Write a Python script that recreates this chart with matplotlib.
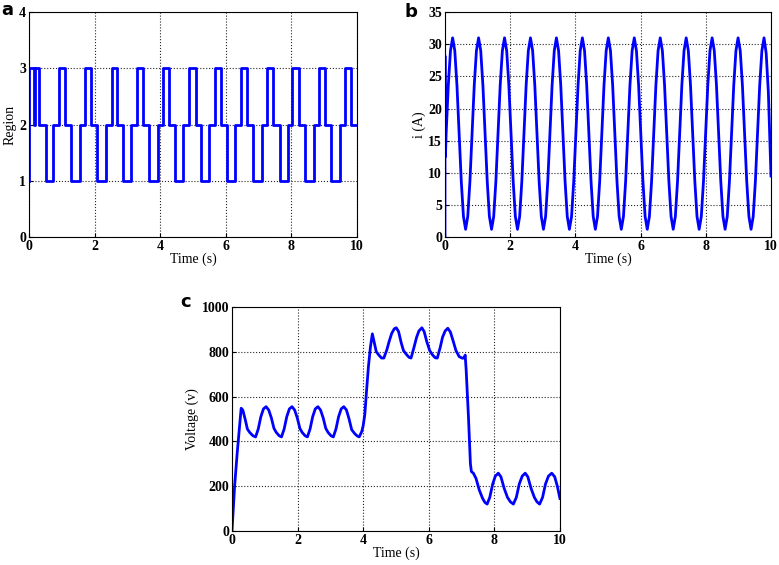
import matplotlib
matplotlib.use("Agg")
import matplotlib.pyplot as plt

# ---- panel a: region index (switching instants, s) ----
region_t = [0, 0, 0.16, 0.17, 0.30,
            0.51, 0.73, 0.91, 1.10, 1.29, 1.55, 1.71, 1.88, 2.06, 2.34, 2.52, 2.69,
            2.87, 3.12, 3.30, 3.48, 3.66, 3.92, 4.09, 4.28, 4.45, 4.70, 4.89, 5.08,
            5.24, 5.50, 5.67, 5.86, 6.03, 6.29, 6.48, 6.64, 6.84, 7.09, 7.27, 7.45,
            7.64, 7.89, 8.03, 8.24, 8.42, 8.68, 8.85, 9.03, 9.22, 9.47, 9.64, 9.82, 10.0]
region_v = [1, 3, 2, 3, 2,
            1, 2, 3, 2, 1, 2, 3, 2, 1, 2, 3, 2,
            1, 2, 3, 2, 1, 2, 3, 2, 1, 2, 3, 2,
            1, 2, 3, 2, 1, 2, 3, 2, 1, 2, 3, 2,
            1, 2, 3, 2, 1, 2, 3, 2, 1, 2, 3, 2, 2]

# ---- panel b: current ----
current_t = [0, 0, 0.015, 0.036, 0.102, 0.169,
    0.235, 0.301, 0.368, 0.434, 0.500, 0.567, 0.633, 0.699, 0.766, 0.832, 0.898, 0.965,
    1.031, 1.097, 1.164, 1.230, 1.296, 1.363, 1.429, 1.495, 1.562, 1.628, 1.694, 1.761,
    1.827, 1.893, 1.960, 2.026, 2.092, 2.159, 2.225, 2.291, 2.358, 2.424, 2.490, 2.557,
    2.623, 2.689, 2.756, 2.822, 2.888, 2.955, 3.021, 3.087, 3.154, 3.220, 3.286, 3.353,
    3.419, 3.485, 3.552, 3.618, 3.684, 3.751, 3.817, 3.883, 3.950, 4.016, 4.082, 4.149,
    4.215, 4.281, 4.348, 4.414, 4.480, 4.547, 4.613, 4.679, 4.746, 4.812, 4.878, 4.945,
    5.011, 5.077, 5.144, 5.210, 5.276, 5.343, 5.409, 5.475, 5.542, 5.608, 5.674, 5.741,
    5.807, 5.873, 5.940, 6.006, 6.072, 6.139, 6.205, 6.271, 6.338, 6.404, 6.470, 6.537,
    6.603, 6.669, 6.736, 6.802, 6.868, 6.935, 7.001, 7.067, 7.134, 7.200, 7.266, 7.333,
    7.399, 7.465, 7.532, 7.598, 7.664, 7.731, 7.797, 7.863, 7.930, 7.996, 8.062, 8.129,
    8.195, 8.261, 8.328, 8.394, 8.460, 8.527, 8.593, 8.659, 8.726, 8.792, 8.858, 8.925,
    8.991, 9.057, 9.124, 9.190, 9.256, 9.323, 9.389, 9.455, 9.522, 9.588, 9.654, 9.721,
    9.787, 9.853, 9.920, 10.0]
current_i = [0, 28.2, 12.5, 16.1, 23.6, 29.0,
    31.0, 29.0, 23.6, 16.1, 8.7, 3.2, 1.2, 3.2, 8.7, 16.1, 23.6, 29.0,
    31.0, 29.0, 23.6, 16.1, 8.7, 3.2, 1.2, 3.2, 8.7, 16.1, 23.6, 29.0,
    31.0, 29.0, 23.6, 16.1, 8.7, 3.2, 1.2, 3.2, 8.7, 16.1, 23.6, 29.0,
    31.0, 29.0, 23.6, 16.1, 8.7, 3.2, 1.2, 3.2, 8.7, 16.1, 23.6, 29.0,
    31.0, 29.0, 23.6, 16.1, 8.7, 3.2, 1.2, 3.2, 8.7, 16.1, 23.6, 29.0,
    31.0, 29.0, 23.6, 16.1, 8.7, 3.2, 1.2, 3.2, 8.7, 16.1, 23.6, 29.0,
    31.0, 29.0, 23.6, 16.1, 8.7, 3.2, 1.2, 3.2, 8.7, 16.1, 23.6, 29.0,
    31.0, 29.0, 23.6, 16.1, 8.7, 3.2, 1.2, 3.2, 8.7, 16.1, 23.6, 29.0,
    31.0, 29.0, 23.6, 16.1, 8.7, 3.2, 1.2, 3.2, 8.7, 16.1, 23.6, 29.0,
    31.0, 29.0, 23.6, 16.1, 8.7, 3.2, 1.2, 3.2, 8.7, 16.1, 23.6, 29.0,
    31.0, 29.0, 23.6, 16.1, 8.7, 3.2, 1.2, 3.2, 8.7, 16.1, 23.6, 29.0,
    31.0, 29.0, 23.6, 16.1, 8.7, 3.2, 1.2, 3.2, 8.7, 16.1, 23.6, 29.0,
    31.0, 28.6, 22.5, 9.5]

# ---- panel c: voltage ----
voltage_t = [0.00, 0.08, 0.16, 0.22, 0.28, 0.33, 0.40, 0.47, 0.54, 0.64, 0.72,
    0.80, 0.88, 0.96, 1.04, 1.12, 1.20, 1.28, 1.35, 1.44, 1.51,
    1.59, 1.67, 1.75, 1.83, 1.91, 1.99, 2.07, 2.14, 2.23, 2.30,
    2.38, 2.46, 2.54, 2.62, 2.70, 2.78, 2.86, 2.93, 3.02, 3.09,
    3.17, 3.25, 3.33, 3.41, 3.49, 3.57, 3.65, 3.74, 3.82, 3.88,
    3.96, 4.00, 4.05, 4.10, 4.16, 4.22, 4.28, 4.34, 4.40, 4.48, 4.56, 4.63,
    4.72, 4.80, 4.87, 4.95, 5.01, 5.08, 5.16, 5.23, 5.32, 5.40, 5.46,
    5.55, 5.63, 5.70, 5.79, 5.86, 5.94, 6.03, 6.12, 6.20, 6.26,
    6.35, 6.42, 6.50, 6.58, 6.66, 6.74, 6.83, 6.93, 7.03, 7.08, 7.11,
    7.14, 7.21, 7.27, 7.30, 7.36, 7.44, 7.54, 7.64, 7.71, 7.78,
    7.86, 7.95, 8.03, 8.12, 8.20, 8.30, 8.40, 8.49, 8.58,
    8.67, 8.76, 8.85, 8.94, 9.02, 9.12, 9.22, 9.30, 9.38,
    9.47, 9.56, 9.65, 9.75, 9.84, 9.92, 10.0]
voltage_v = [0, 200, 350, 450, 548, 540, 500, 455, 440, 425, 420,
    455, 510, 545, 555, 540, 505, 458, 440, 425, 420,
    455, 510, 545, 555, 540, 505, 458, 440, 425, 420,
    455, 510, 545, 555, 540, 505, 458, 440, 425, 420,
    455, 510, 545, 555, 540, 500, 452, 435, 424, 420,
    445, 470, 520, 620, 733, 820, 880, 840, 800, 785, 772, 772,
    808, 850, 882, 903, 907, 890, 840, 805, 788, 775, 772,
    820, 865, 893, 907, 890, 845, 805, 785, 773, 772,
    820, 865, 893, 905, 888, 850, 805, 778, 771, 773, 785,
    720, 510, 300, 265, 258, 235, 183, 146, 128, 120,
    150, 210, 245, 258, 242, 190, 150, 130, 120,
    150, 210, 245, 258, 242, 190, 150, 130, 120,
    150, 210, 245, 258, 242, 200, 145]

plt.rcParams['font.family'] = ['Liberation Serif', 'DejaVu Serif']
plt.rcParams['font.weight'] = 'bold'
plt.rcParams['font.size'] = 10

fig = plt.figure(figsize=(7.79, 5.65), dpi=100)
ax_a = fig.add_axes([0.0372, 0.5805, 0.421, 0.398])
ax_b = fig.add_axes([0.5712, 0.5805, 0.4185, 0.398])
ax_c = fig.add_axes([0.2978, 0.0602, 0.421, 0.3965])

line_kw = dict(color='#0000ff', linewidth=2.0)
ax_a.step(region_t, region_v, where='post', **line_kw)
ax_b.plot(current_t, current_i, **line_kw)
ax_c.plot(voltage_t, voltage_v, **line_kw)


def style(ax, ylim, yticks, ylabel):
    ax.set_xlim(0, 10)
    ax.set_ylim(*ylim)
    ax.set_xticks([0, 2, 4, 6, 8, 10])
    ax.set_yticks(yticks)
    ax.grid(True, color='0.15', linestyle=':', linewidth=0.8)
    ax.tick_params(direction='in', length=3, pad=2, labelsize=10)
    ax.set_xlabel('Time (s)', labelpad=0)
    ax.set_ylabel(ylabel, labelpad=2)
    for s in ax.spines.values():
        s.set_linewidth(0.8)


style(ax_a, (0, 4), [0, 1, 2, 3, 4], 'Region')
style(ax_b, (0, 35), [0, 5, 10, 15, 20, 25, 30, 35], 'i (A)')
style(ax_c, (0, 1000), [0, 200, 400, 600, 800, 1000], 'Voltage (v)')

for x, y, lab in [(0.001, 0.998, 'a'), (0.519, 0.995, 'b'), (0.231, 0.482, 'c')]:
    fig.text(x, y, lab, family='DejaVu Sans', fontweight='bold', fontsize=13,
             ha='left', va='top')

fig.savefig('out.png', dpi=100)
